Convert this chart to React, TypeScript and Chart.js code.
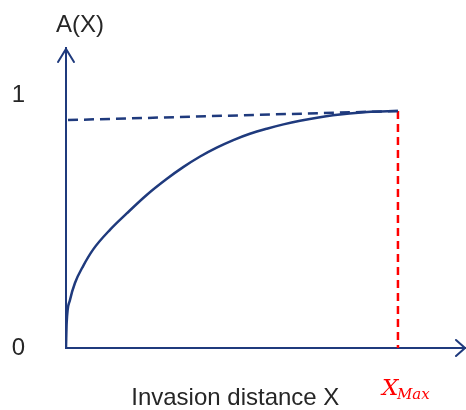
import React, { useEffect, useRef } from "react";
import { Chart, registerables } from "chart.js";

Chart.register(...registerables);

// Curve A(X) vs invasion distance X (XMax = 1)
const curveX = [0, 0.002, 0.012, 0.027, 0.052, 0.082, 0.133, 0.183, 0.243, 0.303, 0.353, 0.404, 0.454, 0.504, 0.554, 0.605, 0.655, 0.705, 0.804, 0.907, 1.0];
const curveY = [0, 0.099, 0.19, 0.257, 0.325, 0.39, 0.468, 0.532, 0.605, 0.668, 0.715, 0.757, 0.792, 0.822, 0.847, 0.867, 0.884, 0.898, 0.92, 0.933, 0.937];
// dashed asymptote
const dashX = [0.006, 1.0];
const dashY = [0.901, 0.937];
// red XMax marker
const xMaxValue = 1.0;
const xMaxTopY = 0.937;
const yTickValues = [0, 1];
const yTickLabels = ["0", "1"];
const yAxisTitle = "A(X)";
const xAxisTitle = "Invasion distance X";

const NAVY = "#1f3a7d";
const RED = "#ff0000";
const TEXT = "#262626";

export default function App() {
  const ref = useRef<HTMLCanvasElement | null>(null);
  useEffect(() => {
    document.body.style.margin = "0";
    const canvas = ref.current!;
    const overlay = {
      id: "overlay",
      afterDraw(chart: any) {
        const ctx = chart.ctx;
        const xs = chart.scales.x;
        const ys = chart.scales.y;
        const ox = xs.getPixelForValue(0);
        const oy = ys.getPixelForValue(0);
        const top = chart.chartArea.top;
        const right = chart.chartArea.right;
        ctx.save();
        ctx.strokeStyle = NAVY;
        ctx.lineWidth = 2;
        ctx.lineCap = "round";
        // y arrowhead
        ctx.beginPath();
        ctx.moveTo(ox - 8, top + 14);
        ctx.lineTo(ox, top + 1);
        ctx.lineTo(ox + 8, top + 14);
        ctx.stroke();
        // x arrowhead
        ctx.beginPath();
        ctx.moveTo(right - 10, oy - 8);
        ctx.lineTo(right - 1, oy);
        ctx.lineTo(right - 10, oy + 8);
        ctx.stroke();
        // texts
        ctx.fillStyle = TEXT;
        ctx.font = "24px 'Liberation Sans', Arial, sans-serif";
        ctx.textAlign = "center";
        ctx.textBaseline = "alphabetic";
        ctx.fillText(yAxisTitle, ox + 14, top - 16);
        ctx.fillText(xAxisTitle, xs.getPixelForValue(0.51), oy + 57);
        // X_Max label
        const px = xs.getPixelForValue(xMaxValue);
        ctx.fillStyle = RED;
        ctx.textAlign = "left";
        ctx.font = "italic 23px 'DejaVu Serif', serif";
        ctx.fillText("X", px - 16, oy + 47);
        ctx.font = "italic 15px 'DejaVu Serif', serif";
        ctx.fillText("Max", px - 1, oy + 51);
        ctx.restore();
      },
    };
    const chart = new Chart(canvas, {
      type: "scatter",
      data: {
        datasets: [
          {
            data: curveX.map((x, i) => ({ x, y: curveY[i] })),
            showLine: true,
            borderColor: NAVY,
            borderWidth: 2.5,
            pointRadius: 0,
            cubicInterpolationMode: "monotone",
            fill: false,
          },
          {
            data: dashX.map((x, i) => ({ x, y: dashY[i] })),
            showLine: true,
            borderColor: NAVY,
            borderWidth: 2.5,
            borderDash: [10, 6],
            pointRadius: 0,
          },
          {
            data: [
              { x: xMaxValue, y: xMaxTopY },
              { x: xMaxValue, y: 0 },
            ],
            showLine: true,
            borderColor: RED,
            borderWidth: 2.5,
            borderDash: [8, 5],
            pointRadius: 0,
          },
        ],
      },
      options: {
        animation: false,
        responsive: false,
        events: [],
        layout: { padding: { top: 48, right: 0, left: 0, bottom: 0 } },
        plugins: { legend: { display: false }, tooltip: { enabled: false } },
        scales: {
          x: {
            type: "linear",
            min: 0,
            max: 1.205,
            grid: { display: false, drawTicks: false },
            border: { display: true, color: NAVY, width: 2 },
            ticks: { display: false },
            afterFit(scale: any) {
              scale.height = 62;
            },
          },
          y: {
            type: "linear",
            min: 0,
            max: 1.186,
            grid: { display: false, drawTicks: false },
            border: { display: true, color: NAVY, width: 2 },
            afterBuildTicks(scale: any) {
              scale.ticks = yTickValues.map((v) => ({ value: v }));
            },
            ticks: {
              padding: 41,
              color: TEXT,
              font: { size: 24, family: "'Liberation Sans', Arial, sans-serif" },
              callback: (v: any) => {
                const i = yTickValues.indexOf(Number(v));
                return i >= 0 ? yTickLabels[i] : "";
              },
            },
            afterFit(scale: any) {
              scale.width = 66;
              scale.paddingTop = 0;
              scale.paddingBottom = 0;
            },
          },
        },
      },
      plugins: [overlay],
    } as any);
    return () => chart.destroy();
  }, []);
  return <canvas ref={ref} width={466} height={410} style={{ display: "block" }} />;
}
